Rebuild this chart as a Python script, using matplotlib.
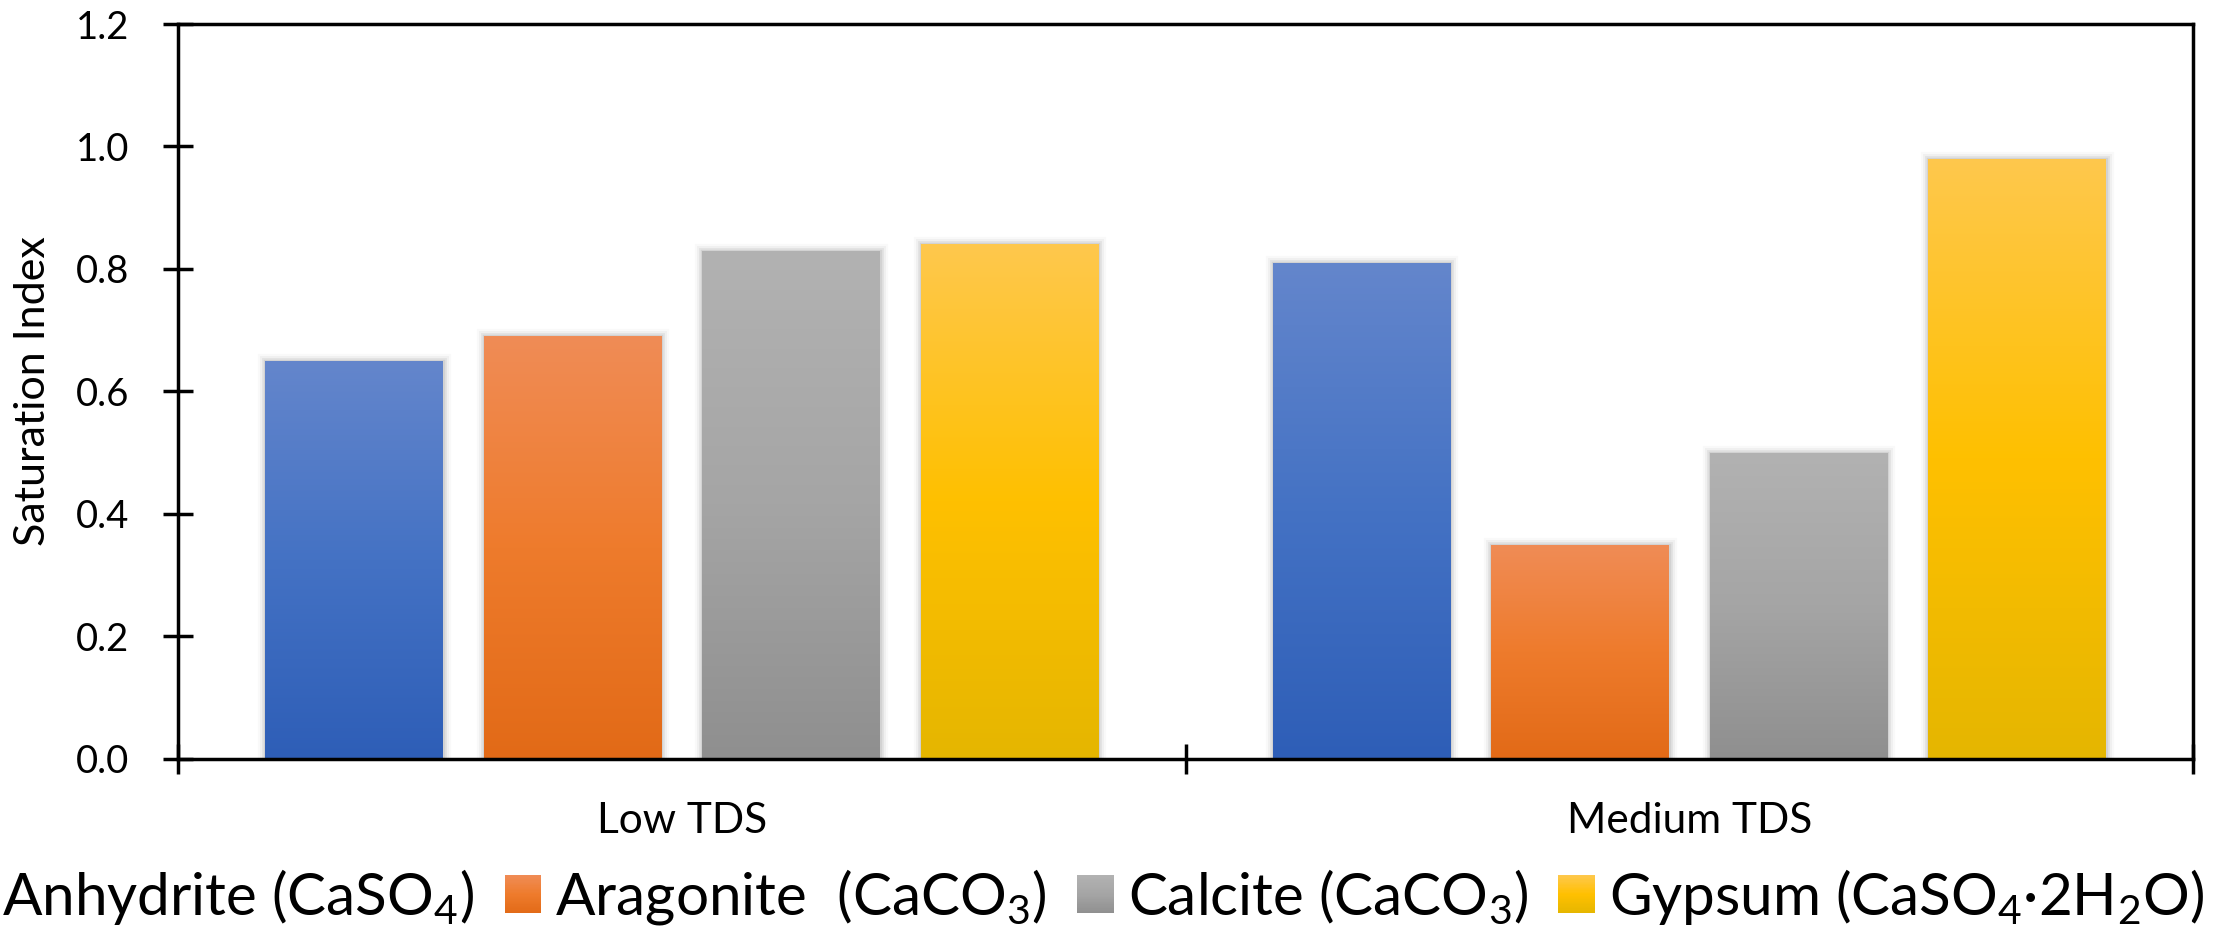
import numpy as np
import matplotlib
matplotlib.use('Agg')
import matplotlib.pyplot as plt
from matplotlib.colors import LinearSegmentedColormap
from matplotlib.legend_handler import HandlerBase
from matplotlib.patches import Rectangle

plt.rcParams['font.family'] = ['Lato', 'DejaVu Sans']
plt.rcParams['mathtext.fontset'] = 'custom'
plt.rcParams['mathtext.rm'] = 'Lato'
plt.rcParams['mathtext.default'] = 'regular'

categories = ['Low TDS', 'Medium TDS']
minerals = ['Anhydrite (CaSO$_4$)', 'Aragonite  (CaCO$_3$)',
            'Calcite (CaCO$_3$)', 'Gypsum (CaSO$_4$·2H$_2$O)']
anhydrite = [0.65, 0.81]
aragonite = [0.69, 0.35]
calcite = [0.83, 0.50]
gypsum = [0.84, 0.98]
series = [anhydrite, aragonite, calcite, gypsum]

# gradient stops per series: top, middle, bottom
shades = [
    ['#6486CC', '#4472C4', '#2E5EB7'],
    ['#F08C56', '#EE7B2C', '#E26A17'],
    ['#B2B2B2', '#A5A5A5', '#8F8F8F'],
    ['#FEC84D', '#FFC000', '#E5B600'],
]


class GradientHandler(HandlerBase):
    def __init__(self, stops):
        super().__init__()
        self.cmap = LinearSegmentedColormap.from_list('h', stops[::-1])

    def create_artists(self, legend, orig_handle, xdescent, ydescent,
                       width, height, fontsize, trans):
        n = 30
        out = []
        for k in range(n):
            y0 = -ydescent + height * k / n
            out.append(Rectangle((-xdescent, y0), width, height / n * 1.3,
                                 facecolor=self.cmap((k + 0.5) / n),
                                 edgecolor='none', transform=trans))
        return out


fig = plt.figure(figsize=(22.13, 9.34), dpi=100)
ax = fig.add_axes([0.0804, 0.1874, 0.9106, 0.7869])

x = np.arange(len(categories))
width = 0.1765
step = 0.2169
grad = np.linspace(0, 1, 256).reshape(-1, 1)

for j, (vals, stops) in enumerate(zip(series, shades)):
    xs = x + (j - 1.5) * step
    cmap = LinearSegmentedColormap.from_list(f's{j}', stops[::-1])
    # soft shadow around each bar
    for lw, a in [(11, 0.025), (8, 0.035), (5, 0.05), (2.5, 0.07)]:
        ax.bar(xs, vals, width, facecolor='none', edgecolor=(0, 0, 0, a),
               linewidth=lw, joinstyle='miter', zorder=1)
    bars = ax.bar(xs, vals, width, color=stops[1], zorder=2)
    for b in bars:
        x0, h = b.get_x(), b.get_height()
        im = ax.imshow(grad, extent=(x0, x0 + width, 0, h), cmap=cmap,
                       aspect='auto', origin='lower', zorder=2.5)
        im.set_clip_path(b)

ax.set_xlim(-0.5, 1.5)
ax.set_ylim(0, 1.2)
ax.set_yticks(np.arange(0, 1.21, 0.2))
ax.set_yticklabels([f'{v:.1f}' for v in np.arange(0, 1.21, 0.2)])
ax.set_xticks([-0.5, 0.5, 1.5])
ax.set_xticklabels([])
ax.set_xticks(x, minor=True)
ax.set_xticklabels(categories, minor=True)

ax.tick_params(axis='both', which='major', direction='inout', length=21.6,
               width=2.5, labelsize=27.5, pad=24)
ax.tick_params(axis='x', which='minor', length=0, labelsize=30.5, pad=31)
for s in ax.spines.values():
    s.set_linewidth(2.5)
    s.set_color('black')

ax.set_ylabel('Saturation Index', fontsize=31)
ax.yaxis.set_label_coords(-0.0625, 0.5)

proxies = [Rectangle((0, 0), 1, 1) for _ in shades]
leg = fig.legend(proxies, minerals, loc='center', ncol=4,
                 bbox_to_anchor=(0.487, 0.0396), frameon=False, fontsize=42,
                 handlelength=0.63, handleheight=0.63, handletextpad=0.24,
                 columnspacing=0.52,
                 handler_map={p: GradientHandler(s) for p, s in zip(proxies, shades)})

fig.savefig('out.png', dpi=100)
